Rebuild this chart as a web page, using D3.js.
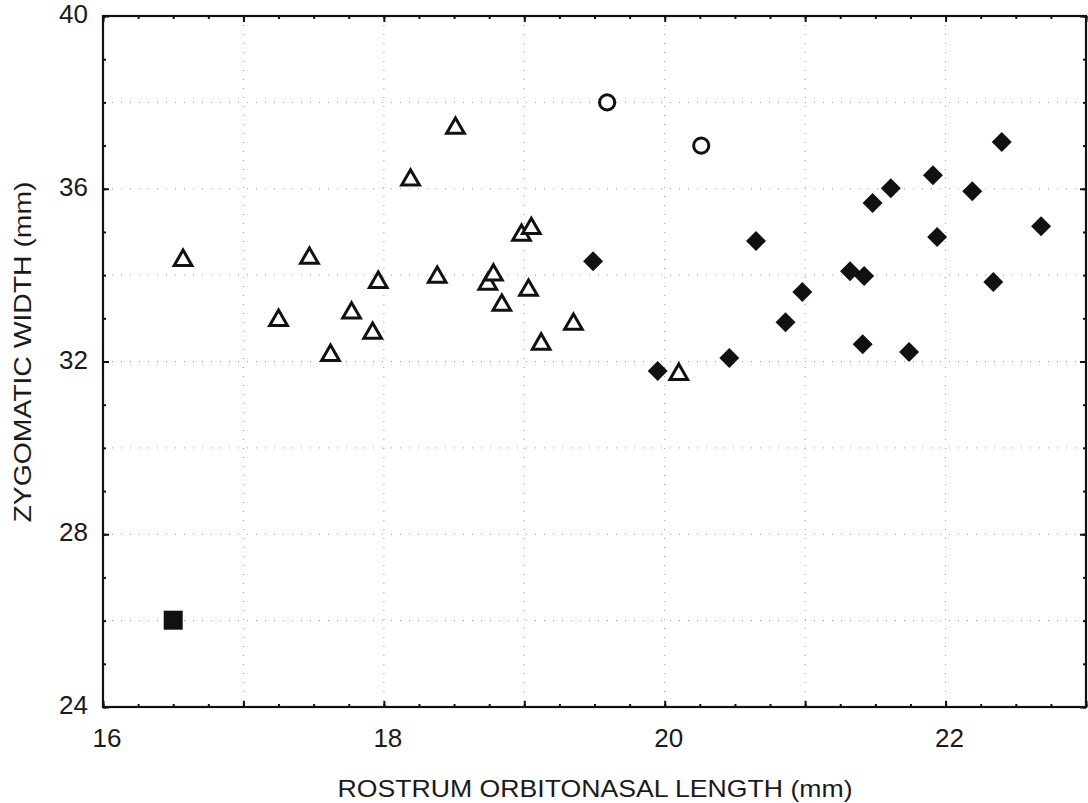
<!DOCTYPE html>
<html>
<head>
<meta charset="utf-8">
<script src="https://cdn.jsdelivr.net/npm/d3@7"></script>
<style>
	body { margin: 0; background: #fff; }
	text { font-family: "Liberation Sans", Arial, sans-serif; fill: #1a1a1a; }
</style>
</head>
<body>
<script>
const margin = { top: 16, right: 2, bottom: 96, left: 103 },
	width = 1088 - margin.left - margin.right,
	height = 803 - margin.top - margin.bottom;

// triangles (open)
const triX = [16.57, 17.25, 17.47, 17.62, 17.77, 17.92, 17.96, 18.19, 18.38, 18.51,
	18.74, 18.78, 18.84, 18.98, 19.05, 19.03, 19.12, 19.35, 20.10];
const triY = [34.39, 33.0, 34.44, 32.19, 33.17, 32.70, 33.88, 36.25, 34.0, 37.45,
	33.84, 34.05, 33.35, 34.97, 35.13, 33.70, 32.45, 32.91, 31.75];
// circles (open)
const circX = [19.59, 20.26];
const circY = [38.0, 37.0];
// square (filled)
const sqX = [16.50];
const sqY = [26.01];
// diamonds (filled)
const diaX = [19.49, 19.95, 20.46, 20.65, 20.86, 20.98, 21.32, 21.42, 21.41, 21.48,
	21.61, 21.74, 21.91, 21.94, 22.19, 22.34, 22.40, 22.68];
const diaY = [34.32, 31.78, 32.08, 34.79, 32.91, 33.61, 34.09, 33.98, 32.40, 35.67,
	36.01, 32.22, 36.31, 34.88, 35.94, 33.84, 37.08, 35.13];

const xTicks = [16, 18, 20, 22];
const yTicks = [24, 28, 32, 36, 40];

const x = d3.scaleLinear().domain([16, 23]).range([0, width]);
const y = d3.scaleLinear().domain([24, 40]).range([height, 0]);

const svg = d3.select('body').append('svg')
	.attr('width', 1088)
	.attr('height', 803)
	.append('g')
	.attr('transform', 'translate(' + margin.left + ',' + margin.top + ')');

// dotted grid
const grid = svg.append('g').attr('stroke', '#999').attr('stroke-width', 1)
	.attr('stroke-dasharray', '1,8');
grid.selectAll('line.gx')
	.data(d3.range(17, 23))
	.join('line')
	.attr('x1', d => x(d)).attr('x2', d => x(d))
	.attr('y1', 0).attr('y2', height);
grid.selectAll('line.gy')
	.data(d3.range(26, 40, 2))
	.join('line')
	.attr('y1', d => y(d)).attr('y2', d => y(d))
	.attr('x1', 0).attr('x2', width);

// axes: inward ticks on all four sides
function tickSet(axisFn, scale, values, len) {
	return axisFn(scale).tickValues(values).tickSize(len).tickFormat('');
}
const xMinor = d3.range(16, 23.01, 0.25);
const xMajor = d3.range(16, 23.01, 1);
const yMinor = d3.range(24, 40.01, 1);

[[height, d3.axisTop], [0, d3.axisBottom]].forEach(([ty, fn]) => {
	svg.append('g').attr('transform', 'translate(0,' + ty + ')')
		.call(tickSet(fn, x, xMinor, 3));
	svg.append('g').attr('transform', 'translate(0,' + ty + ')')
		.call(tickSet(fn, x, xMajor, 6));
});
[[0, d3.axisRight], [width, d3.axisLeft]].forEach(([tx, fn]) => {
	svg.append('g').attr('transform', 'translate(' + tx + ',0)')
		.call(tickSet(fn, y, yMinor, 3));
	svg.append('g').attr('transform', 'translate(' + tx + ',0)')
		.call(tickSet(fn, y, yTicks, 6));
});
svg.selectAll('.domain').remove();
svg.selectAll('.tick line').attr('stroke', '#111').attr('stroke-width', 2);

// frame
svg.append('rect')
	.attr('width', width).attr('height', height)
	.attr('fill', 'none').attr('stroke', '#111').attr('stroke-width', 2.2);

// tick labels
svg.selectAll('text.xl')
	.data(xTicks)
	.join('text')
	.attr('x', d => x(d) + 4)
	.attr('y', height + 40)
	.attr('text-anchor', 'middle')
	.attr('font-size', '26px')
	.text(d => d);
svg.selectAll('text.yl')
	.data(yTicks)
	.join('text')
	.attr('x', -15)
	.attr('y', d => y(d) + 7)
	.attr('text-anchor', 'end')
	.attr('font-size', '26px')
	.text(d => d);

// axis titles
svg.append('text')
	.attr('x', 595 - margin.left)
	.attr('y', height + 90)
	.attr('text-anchor', 'middle')
	.attr('font-size', '24px')
	.attr('textLength', 515)
	.attr('lengthAdjust', 'spacingAndGlyphs')
	.text('ROSTRUM ORBITONASAL LENGTH (mm)');
svg.append('text')
	.attr('transform', 'translate(' + (31 - margin.left) + ',' + (352 - margin.top) + ') rotate(-90)')
	.attr('text-anchor', 'middle')
	.attr('font-size', '24px')
	.attr('textLength', 341)
	.attr('lengthAdjust', 'spacingAndGlyphs')
	.text('ZYGOMATIC WIDTH (mm)');

// markers
const triPath = d3.symbol().type(d3.symbolTriangle).size(135);
const dPts = (xs, ys) => xs.map((v, i) => [v, ys[i]]);

svg.selectAll('path.tri')
	.data(dPts(triX, triY))
	.join('path')
	.attr('d', triPath)
	.attr('transform', d => 'translate(' + x(d[0]) + ',' + (y(d[1]) + 2) + ')')
	.attr('fill', '#fff')
	.attr('stroke', '#111')
	.attr('stroke-width', 3)
	.attr('stroke-linejoin', 'miter');

svg.selectAll('circle.circ')
	.data(dPts(circX, circY))
	.join('circle')
	.attr('cx', d => x(d[0]))
	.attr('cy', d => y(d[1]))
	.attr('r', 7.6)
	.attr('fill', '#fff')
	.attr('stroke', '#111')
	.attr('stroke-width', 3);

svg.selectAll('rect.sq')
	.data(dPts(sqX, sqY))
	.join('rect')
	.attr('x', d => x(d[0]) - 9.5)
	.attr('y', d => y(d[1]) - 9.5)
	.attr('width', 19)
	.attr('height', 19)
	.attr('fill', '#111');

svg.selectAll('path.dia')
	.data(dPts(diaX, diaY))
	.join('path')
	.attr('d', 'M0,-10L10,0L0,10L-10,0Z')
	.attr('transform', d => 'translate(' + x(d[0]) + ',' + y(d[1]) + ')')
	.attr('fill', '#111');
</script>
</body>
</html>
